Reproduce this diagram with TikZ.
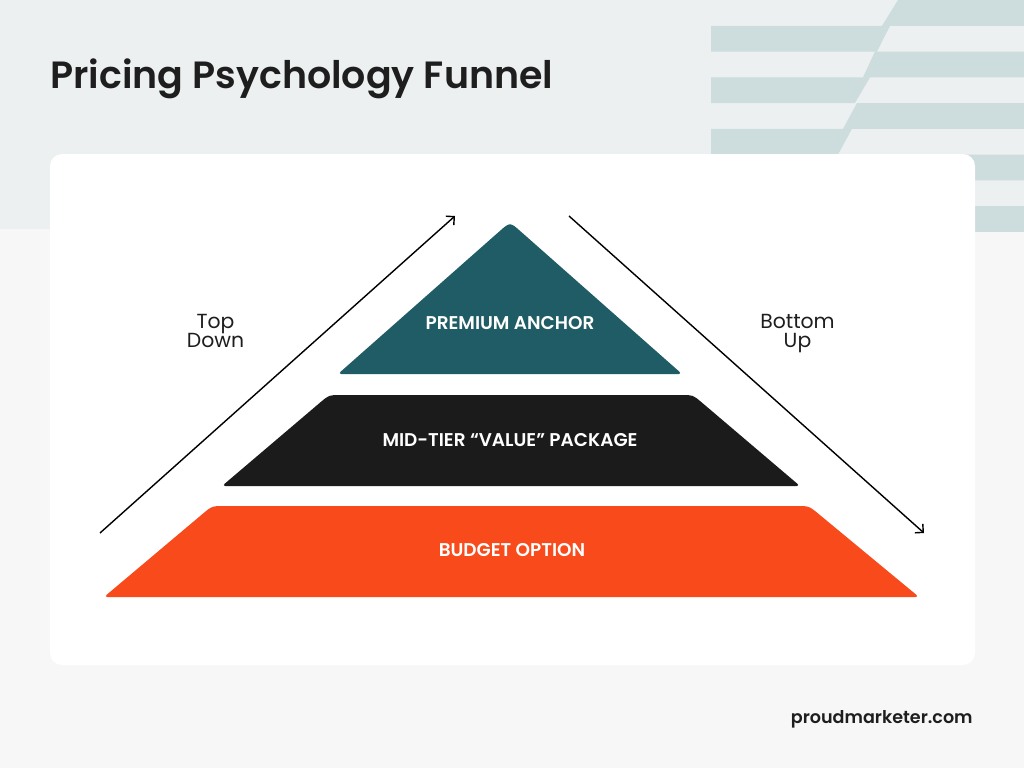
\documentclass[tikz,border=0pt]{standalone}
\usepackage{fontspec}
\setmainfont{Poppins}[BoldFont={Poppins SemiBold}]
\usepackage{xcolor}
\usepackage{tikz}
\usetikzlibrary{calc}
\usetikzlibrary{arrows.meta}
\definecolor{headbg}{HTML}{ECF0F1}
\definecolor{pagebg}{HTML}{F7F7F7}
\definecolor{ribbon}{HTML}{CDDCDD}
\definecolor{premium}{HTML}{205C65}
\definecolor{midtier}{HTML}{1B1B1B}
\definecolor{budget}{HTML}{F84A1A}
\definecolor{ink}{HTML}{1E1E1E}
\tikzset{tierlabel/.style={text=white, inner sep=0pt, font=\bfseries\fontsize{10.5}{12}\selectfont}}
\tikzset{sidelabel/.style={text=ink, align=center, inner sep=0pt, font=\fontsize{11.6}{11.3}\selectfont}}
\tikzset{flowarrow/.style={draw=black, line width=0.8pt, -{Straight Barb[length=1.2mm,width=2.4mm]}}}

\begin{document}
\begin{tikzpicture}[x=0.02cm, y=-0.02cm]
\useasboundingbox (0,0) rectangle (1024,768);
\fill[pagebg] (0,0) rectangle (1024,768);
\fill[headbg] (0,0) rectangle (1024,229);
\foreach \ya/\p/\q/\r/\s in {0/882/898/890/877, 51.5/863/875/870/855, 103/843/857/852/838, 154.5/826/840/835/820}
  \fill[ribbon] (711,\ya+25.8) -- (\p,\ya+25.8) -- (\q,\ya) -- (1030,\ya) -- (1030,\ya+25.8) -- (\r,\ya+25.8) -- (\s,\ya+51.5) -- (711,\ya+51.5) -- cycle;
\fill[ribbon] (822,206) -- (1030,206) -- (1030,231.8) -- (808,231.8) -- cycle;
\fill[white, rounded corners=2.4mm] (50,154) rectangle (975,665);

\node[anchor=base west, inner sep=0pt, text=ink, font=\bfseries\fontsize{21.6}{24}\selectfont] (title) at (50,88) {Pricing Psychology Funnel};

\coordinate (pa-l) at (338,374);
\coordinate (pa-r) at (682,374);
\coordinate (pa-top) at (510,222);
\fill[premium, rounded corners=0.7mm] (pa-l) -- ($(pa-top)!3.5mm!(pa-l)$) .. controls (pa-top) .. ($(pa-top)!3.5mm!(pa-r)$) -- (pa-r) -- cycle;

\coordinate (mt-bl) at (222,486);
\coordinate (mt-tl) at (329,395);
\coordinate (mt-tr) at (693,395);
\coordinate (mt-br) at (800,486);
\fill[midtier, rounded corners=0.7mm] (mt-bl) -- ($(mt-tl)!3mm!(mt-bl)$) .. controls (mt-tl) .. ($(mt-tl)!3mm!(mt-tr)$) -- ($(mt-tr)!3mm!(mt-tl)$) .. controls (mt-tr) .. ($(mt-tr)!3mm!(mt-br)$) -- (mt-br) -- cycle;

\coordinate (bo-bl) at (104,597);
\coordinate (bo-tl) at (212,506);
\coordinate (bo-tr) at (809,506);
\coordinate (bo-br) at (919,597);
\fill[budget, rounded corners=0.7mm] (bo-bl) -- ($(bo-tl)!3.2mm!(bo-bl)$) .. controls (bo-tl) .. ($(bo-tl)!3.2mm!(bo-tr)$) -- ($(bo-tr)!3.2mm!(bo-tl)$) .. controls (bo-tr) .. ($(bo-tr)!3.2mm!(bo-br)$) -- (bo-br) -- cycle;

\node[tierlabel] (premium-label) at (510,323) {PREMIUM ANCHOR};
\node[tierlabel] (midtier-label) at (510,440) {MID-TIER “VALUE” PACKAGE};
\node[tierlabel] (budget-label) at (512,550) {BUDGET OPTION};

\coordinate (td-start) at (100,533);
\coordinate (td-end) at (455,216);
\coordinate (bu-start) at (569,216);
\coordinate (bu-end) at (924,533);
\draw[flowarrow] (td-start) -- (td-end);
\draw[flowarrow] (bu-start) -- (bu-end);
\node[sidelabel] (topdown) at (215.5,331) {Top\\Down};
\node[sidelabel] (bottomup) at (797.5,333.5) {Bottom\\Up};

\node[anchor=base east, inner sep=0pt, text=ink, font=\bfseries\fontsize{10}{12}\selectfont] (site) at (973,723) {proudmarketer.com};
\end{tikzpicture}
\end{document}
